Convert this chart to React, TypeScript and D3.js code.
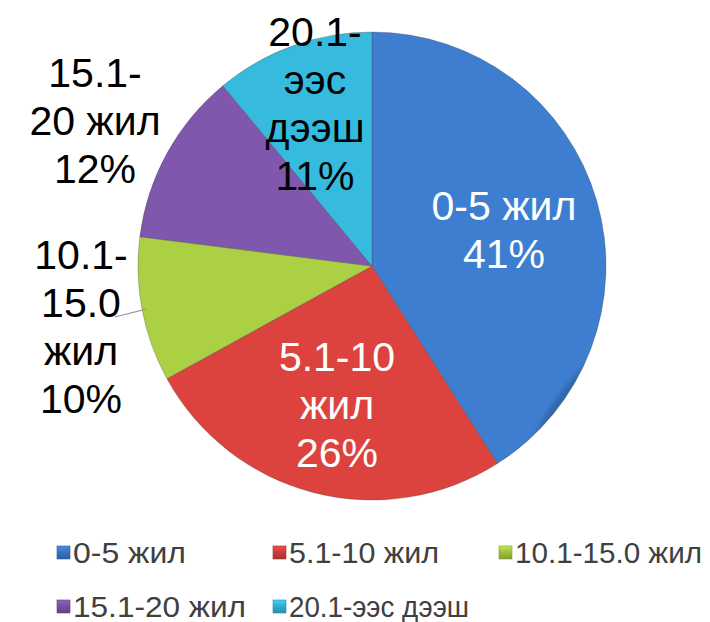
import React from "react";
import * as d3 from "d3";

const categories = ["0-5 жил", "5.1-10 жил", "10.1-15.0 жил", "15.1-20 жил", "20.1-ээс дээш"];
const values = [41, 26, 10, 12, 11];
const labelNames = [["0-5 жил"], ["5.1-10", "жил"], ["10.1-", "15.0", "жил"], ["15.1-", "20 жил"], ["20.1-", "ээс", "дээш"]];
const colors = ["#3873BF", "#C93D39", "#9CBE3E", "#74509E", "#31ABCC"];
const textColors = ["#ffffff", "#ffffff", "#000000", "#000000", "#000000"];

// layout
const W = 710, H = 622;
const CX = 372, CY = 266, R = 234;
const LINE = 48;
const labelOffsets: [number, number][] = [[132, -36], [-35, 139], [-291, 61], [-277, -145], [-57, -162]];
const legendRows = [[0, 1, 2], [3, 4]];
const legendX = [57, 273, 499];
const legendY = [553, 607];
const legendTextLen = [113, 150, 187, 173, 180];

export default function App() {
  const pie = d3.pie<number>().sort(null).value((d) => d).startAngle(0).endAngle(2 * Math.PI);
  const arcs = pie(values);
  const arc = d3.arc<d3.PieArcDatum<number>>().innerRadius(0).outerRadius(R);
  const leaderArc = d3.arc<d3.PieArcDatum<number>>().innerRadius(R - 4).outerRadius(R - 4);

  return (
    <svg width={W} height={H} style={{ position: "absolute", left: 0, top: 0, background: "#fff" }}>
      <defs>
        {colors.map((c, i) => {
          const base = d3.color(c)!;
          return (
            <radialGradient key={i} id={`g${i}`} gradientUnits="userSpaceOnUse" cx={CX} cy={CY} r={R}>
              <stop offset="0%" stopColor={c} />
              <stop offset="86%" stopColor={c} />
              <stop offset="97%" stopColor={base.darker(0.3).formatHex()} />
              <stop offset="100%" stopColor={base.brighter(0.25).formatHex()} />
            </radialGradient>
          );
        })}
        {colors.map((c, i) => {
          const base = d3.color(c)!;
          return (
            <linearGradient key={i} id={`lg${i}`} x1="0" y1="0" x2="0" y2="1">
              <stop offset="0%" stopColor={base.brighter(0.6).formatHex()} />
              <stop offset="50%" stopColor={c} />
              <stop offset="100%" stopColor={base.darker(0.5).formatHex()} />
            </linearGradient>
          );
        })}
      </defs>
      <g transform={`translate(${CX},${CY})`}>
        {arcs.map((a, i) => (
          <path key={i} d={arc(a)!} fill={`url(#g${i})`} stroke="rgba(60,60,60,0.3)" strokeWidth={1} />
        ))}
        {(() => {
          const i = 2;
          const [px, py] = leaderArc.centroid(arcs[i]);
          const ex = labelOffsets[i][0] + 34;
          const ey = labelOffsets[i][1] - 10;
          return <line x1={px} y1={py} x2={ex} y2={ey} stroke="#9a9a9a" strokeWidth={1.2} />;
        })()}
        {arcs.map((a, i) => {
          const lines = [...labelNames[i], `${values[i]}%`];
          const [dx, dy] = labelOffsets[i];
          const first = dy - ((lines.length - 1) * LINE) / 2 + 14;
          return (
            <text key={i} textAnchor="middle" fontFamily="'Liberation Sans', Arial, sans-serif" fontSize={41} fill={textColors[i]}>
              {lines.map((t, j) => (
                <tspan key={j} x={dx} y={first + j * LINE}>{t}</tspan>
              ))}
            </text>
          );
        })}
      </g>
      <g>
        {legendRows.map((row, r) =>
          row.map((idx, c) => (
            <g key={idx} transform={`translate(${legendX[c]},${legendY[r]})`}>
              <rect x={0} y={-7} width={13} height={13} fill={`url(#lg${idx})`} stroke={d3.color(colors[idx])!.darker(0.6).formatHex()} strokeWidth={0.6} />
              <text x={16} y={10} fontFamily="'Liberation Sans', Arial, sans-serif" fontSize={29} fill="#404040" textLength={legendTextLen[idx]} lengthAdjust="spacingAndGlyphs">
                {categories[idx]}
              </text>
            </g>
          ))
        )}
      </g>
    </svg>
  );
}
